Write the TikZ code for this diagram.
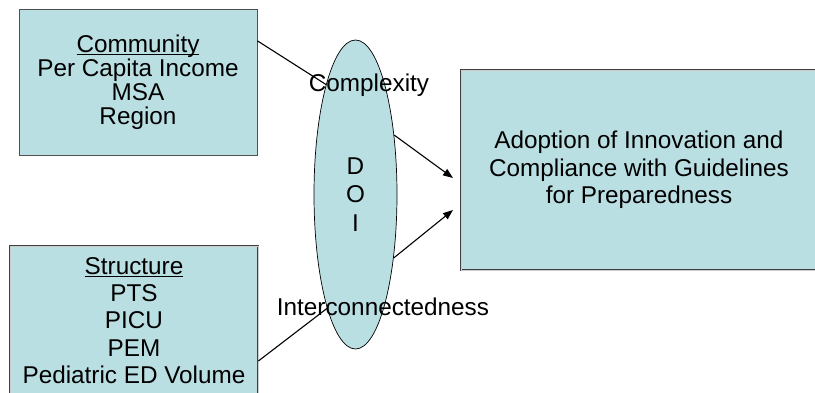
\documentclass[tikz,border=0pt]{standalone}
\usepackage{fontspec}
\setmainfont{Liberation Sans}
\usepackage{tikz}
\usetikzlibrary{arrows.meta,shapes.geometric}
\definecolor{doicyan}{RGB}{186,223,227}
\definecolor{edgegray}{RGB}{80,80,80}
\newcommand{\headline}[1]{\setbox0\hbox{#1}\rlap{\rule[-2.6pt]{\wd0}{1.1pt}}\box0}

\begin{document}
\begin{tikzpicture}[x=1pt,y=-1pt,box/.style={draw=edgegray,fill=doicyan,line width=.9pt,align=center,inner sep=0pt,font=\fontsize{24.3}{24}\selectfont},dbox/.style={box,draw=black!75,double=gray!40,double distance=1pt,line width=.9pt,font=\fontsize{24.3}{27.3}\selectfont},link/.style={line width=1.1pt,draw=black},arr/.style={link,-{Triangle[length=10pt,width=7.5pt]}},lbl/.style={font=\fontsize{24.3}{28.5}\selectfont,inner sep=0pt,align=center}]

\clip (0,0) rectangle (815,392);
\useasboundingbox (0,0) rectangle (815,392);

\node[box,minimum width=238,minimum height=146] (comm) at(138,82) {\headline{Community}\\Per Capita Income\\MSA\\Region};
\node[dbox,minimum width=248,minimum height=149] (struct) at(134,320.5) {\headline{Structure}\\PTS\\PICU\\PEM\\Pediatric ED Volume};
\node[dbox,minimum width=356,minimum height=200] (adopt) at(639,170) {Adoption of Innovation and\\Compliance with Guidelines\\for Preparedness};
\node[ellipse,draw=black,fill=doicyan,line width=.7pt,inner sep=0pt,minimum width=83,minimum height=309,lbl] (doi) at(355.5,194.5) {D\\O\\I};

\coordinate (inA) at(453,178);
\coordinate (inB) at(453,210);
\draw[link] (comm.19) -- (doi.105);
\draw[link] (struct.-18) -- (doi.256);
\draw[arr] (doi.57) -- (inA);
\draw[arr] (doi.-59) -- (inB);

\node[lbl] (cplx) at(369,85) {Complexity};
\node[lbl] (inter) at(383,307) {Interconnectedness};
\end{tikzpicture}
\end{document}
